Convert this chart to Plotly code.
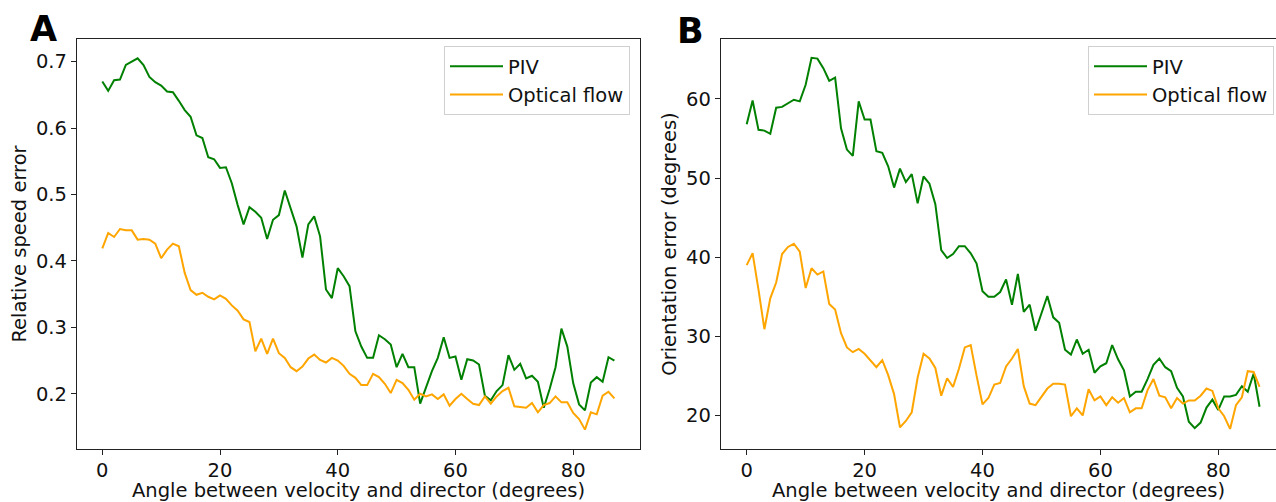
import plotly.graph_objects as go
from plotly.subplots import make_subplots

angle = list(range(88))

speed_piv = [0.670, 0.656, 0.672, 0.673, 0.695, 0.700, 0.705, 0.695, 0.677, 0.669,
             0.664, 0.655, 0.654, 0.641, 0.627, 0.617, 0.589, 0.585, 0.556, 0.553,
             0.540, 0.541, 0.517, 0.484, 0.455, 0.481, 0.474, 0.465, 0.433, 0.462,
             0.469, 0.506, 0.480, 0.452, 0.405, 0.455, 0.467, 0.437, 0.357, 0.344,
             0.389, 0.377, 0.362, 0.294, 0.271, 0.254, 0.254, 0.288, 0.282, 0.274,
             0.240, 0.260, 0.240, 0.240, 0.185, 0.211, 0.234, 0.254, 0.285, 0.254,
             0.256, 0.221, 0.252, 0.250, 0.244, 0.197, 0.190, 0.204, 0.213, 0.258,
             0.236, 0.245, 0.223, 0.227, 0.218, 0.179, 0.207, 0.240, 0.298, 0.271,
             0.216, 0.184, 0.175, 0.217, 0.225, 0.218, 0.255, 0.250]

speed_of = [0.419, 0.442, 0.436, 0.448, 0.446, 0.446, 0.432, 0.433, 0.432, 0.426,
            0.404, 0.417, 0.426, 0.422, 0.382, 0.356, 0.349, 0.352, 0.346, 0.342,
            0.348, 0.343, 0.333, 0.325, 0.312, 0.308, 0.264, 0.283, 0.260, 0.283,
            0.261, 0.254, 0.240, 0.234, 0.241, 0.253, 0.259, 0.251, 0.247, 0.254,
            0.250, 0.242, 0.230, 0.224, 0.213, 0.213, 0.230, 0.225, 0.215, 0.201,
            0.221, 0.216, 0.206, 0.191, 0.200, 0.196, 0.199, 0.192, 0.199, 0.182,
            0.192, 0.200, 0.192, 0.185, 0.183, 0.196, 0.185, 0.196, 0.204, 0.209,
            0.181, 0.180, 0.179, 0.186, 0.172, 0.183, 0.186, 0.196, 0.187, 0.187,
            0.171, 0.162, 0.146, 0.172, 0.169, 0.197, 0.203, 0.193]

orient_piv = [56.8, 59.8, 56.1, 56.0, 55.6, 58.9, 59.0, 59.5, 59.9, 59.7,
              61.8, 65.2, 65.1, 63.9, 62.3, 62.7, 56.3, 53.6, 52.8, 59.7,
              57.4, 57.4, 53.4, 53.2, 51.5, 48.8, 51.2, 49.5, 50.5, 46.8,
              50.2, 49.3, 46.7, 40.9, 39.9, 40.4, 41.4, 41.4, 40.5, 39.2,
              35.7, 35.0, 35.0, 35.6, 37.2, 34.0, 37.9, 33.1, 34.0, 30.7,
              32.9, 35.1, 32.4, 31.7, 28.3, 27.7, 29.6, 27.8, 28.3, 25.4,
              26.2, 26.6, 28.9, 27.1, 25.7, 22.4, 23.0, 23.0, 24.6, 26.4,
              27.2, 26.1, 25.6, 23.5, 22.4, 19.2, 18.4, 19.1, 21.0, 22.0,
              20.7, 22.4, 22.4, 22.6, 23.7, 23.0, 25.3, 21.1]

orient_of = [39.0, 40.5, 35.9, 30.9, 34.8, 36.8, 40.4, 41.3, 41.7, 40.7,
             36.1, 38.6, 37.8, 38.2, 34.1, 33.4, 30.4, 28.6, 28.0, 28.4,
             27.8, 26.9, 26.1, 27.0, 25.1, 22.7, 18.5, 19.3, 20.4, 24.8,
             27.8, 27.2, 26.0, 22.5, 24.7, 23.6, 25.9, 28.6, 28.9, 25.0,
             21.4, 22.2, 23.9, 24.1, 26.2, 27.2, 28.4, 23.7, 21.5, 21.3,
             22.3, 23.4, 24.0, 24.0, 23.9, 19.9, 20.9, 20.0, 23.3, 21.9,
             22.4, 21.3, 22.3, 21.6, 22.2, 20.4, 20.9, 20.9, 23.2, 24.6,
             22.5, 22.3, 20.9, 22.2, 21.5, 21.9, 21.9, 22.5, 23.4, 23.1,
             20.9, 19.9, 18.3, 21.3, 22.3, 25.6, 25.5, 23.6]

x_ticks = [0, 20, 40, 60, 80]
speed_ticks = [0.2, 0.3, 0.4, 0.5, 0.6, 0.7]
orient_ticks = [20, 30, 40, 50, 60]

GREEN = "#008000"
ORANGE = "#FFA500"
FONT = "DejaVu Sans"
FS = 19.5
W, H = 1276, 502
ML, MR, MT, MB = 77, 0, 39, 53
PW = W - ML - MR
PH = H - MT - MB


def px(x):
    return (x - ML) / PW


def py(y):
    return (H - MB - y) / PH


fig = make_subplots(rows=1, cols=2)

fig.add_trace(go.Scatter(x=angle, y=speed_piv, mode="lines", name="PIV",
                         line=dict(color=GREEN, width=2), legend="legend"), row=1, col=1)
fig.add_trace(go.Scatter(x=angle, y=speed_of, mode="lines", name="Optical flow",
                         line=dict(color=ORANGE, width=2), legend="legend"), row=1, col=1)
fig.add_trace(go.Scatter(x=angle, y=orient_piv, mode="lines", name="PIV",
                         line=dict(color=GREEN, width=2), legend="legend2"), row=1, col=2)
fig.add_trace(go.Scatter(x=angle, y=orient_of, mode="lines", name="Optical flow",
                         line=dict(color=ORANGE, width=2), legend="legend2"), row=1, col=2)

axis_common = dict(showline=True, linecolor="#222222", linewidth=1.3, ticks="outside",
                   ticklen=5, tickwidth=1.2, tickcolor="#222222", showgrid=False,
                   zeroline=False, tickfont=dict(family=FONT, size=FS, color="#111111"),
                   automargin=False)

title_font = dict(family=FONT, size=FS, color="#111111")
legend_common = dict(xanchor="right", yanchor="top", bgcolor="rgba(255,255,255,0.8)",
                     bordercolor="#d0d0d0", borderwidth=1, itemwidth=53,
                     font=dict(family=FONT, size=FS, color="#111111"), tracegroupgap=0)

fig.update_layout(
    xaxis=dict(domain=[0, px(640)], range=[-4.3, 91.35], tickvals=x_ticks,
               mirror=True, ticklabelstandoff=-2,
               title=dict(text="Angle between velocity and director (degrees)",
                          font=title_font, standoff=9), **axis_common),
    yaxis=dict(domain=[0, 1], range=[0.1168, 0.7341], tickvals=speed_ticks,
               tickformat=".1f", mirror=True,
               title=dict(text="Relative speed error", font=title_font, standoff=4),
               **axis_common),
    xaxis2=dict(domain=[px(721), 1], range=[-4.36, 89.79], tickvals=x_ticks,
                mirror=True, ticklabelstandoff=-2,
                title=dict(text="Angle between velocity and director (degrees)",
                           font=title_font, standoff=9), **axis_common),
    yaxis2=dict(domain=[0, 1], range=[15.76, 67.58], tickvals=orient_ticks, mirror=False,
                title=dict(text="Orientation error (degrees)", font=title_font, standoff=4),
                **axis_common),
    legend=dict(x=px(630), y=py(46), **legend_common),
    legend2=dict(x=px(1274), y=py(46), **legend_common),
    width=W, height=H,
    margin=dict(l=ML, r=MR, t=MT, b=MB),
    paper_bgcolor="white", plot_bgcolor="white",
    showlegend=True,
    font=dict(family=FONT),
)

fig.add_annotation(text="<b>A</b>", x=px(43), y=py(29), xref="paper", yref="paper",
                   xanchor="center", yanchor="middle", showarrow=False,
                   font=dict(family=FONT, size=35, color="#000000"))
fig.add_annotation(text="<b>B</b>", x=px(690), y=py(31), xref="paper", yref="paper",
                   xanchor="center", yanchor="middle", showarrow=False,
                   font=dict(family=FONT, size=35, color="#000000"))

fig.write_html("out.html")
